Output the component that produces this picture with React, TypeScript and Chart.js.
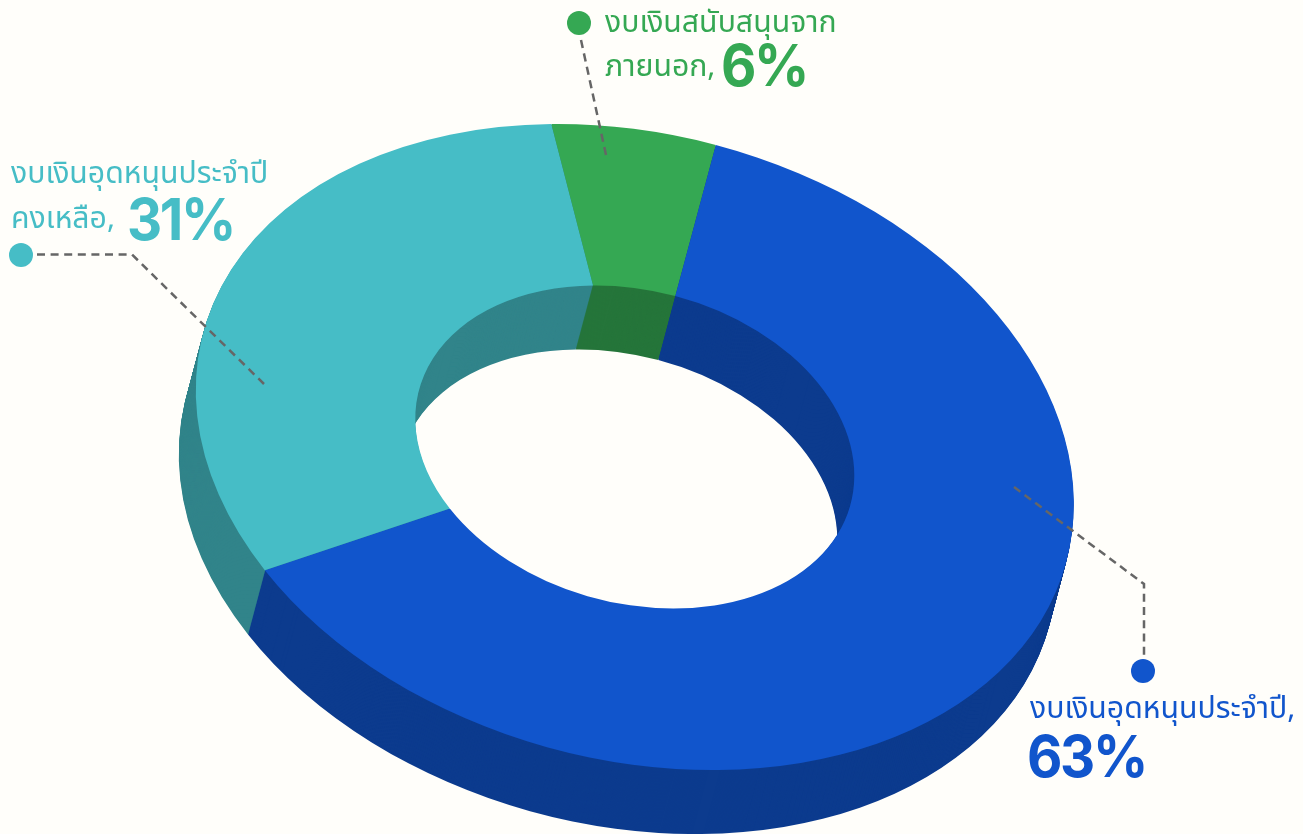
import React, { useEffect, useRef } from "react";
import { Chart, registerables } from "chart.js";

Chart.register(...registerables);

const categories = ["งบเงินสนับสนุนจากภายนอก", "งบเงินอุดหนุนประจำปี", "งบเงินอุดหนุนประจำปีคงเหลือ"];
const shares = [6, 63, 31];
const topColors = ["#35A853", "#1155CC", "#46BDC6"];
const wallColors = ["#25753A", "#0C3B8E", "#31848A"];
const pageBg = "#FFFEFA";

// view of the tilted ring
const CENTER = { x: 634.8, y: 447 };
const AXIS_X = { x: 431, y: -4.6 };
const AXIS_Y = { x: 83.5, y: 323 };
const DEPTH = { x: -17, y: 64 };
const DEPTH_STEPS = 64;

const leaders = [
  { color: "#35A853", dot: [579, 23], dash: [8.2, 5.5], path: [[581, 40], [606, 155]] },
  { color: "#46BDC6", dot: [21, 255], dash: [8, 5.6], path: [[37, 254.5], [132, 254.5], [264, 384]] },
  { color: "#1155CC", dot: [1143, 671], dash: [8, 5.23], path: [[1014, 487], [1144, 584], [1144, 655]] },
];

const labelFont = "'Noto Sans Thai', 'Noto Sans', sans-serif";
const bigFont = "Inter, sans-serif";

const ring3d = {
  id: "ring3d",
  beforeDatasetDraw(chart: any) {
    const ctx = chart.ctx;
    const arcs = chart.getDatasetMeta(0).data;
    const paint = (dx: number, dy: number, colors: string[]) => {
      arcs.forEach((el: any, i: number) => {
        const R = el.outerRadius;
        ctx.save();
        ctx.translate(CENTER.x + dx, CENTER.y + dy);
        ctx.transform(AXIS_X.x / R, AXIS_X.y / R, AXIS_Y.x / R, AXIS_Y.y / R, 0, 0);
        ctx.translate(-el.x, -el.y);
        const orig = el.options;
        el.options = { ...orig, backgroundColor: colors[i], borderWidth: 0, borderColor: colors[i] };
        el.draw(ctx);
        el.options = orig;
        ctx.restore();
      });
    };
    for (let k = DEPTH_STEPS; k >= 1; k--) {
      paint((DEPTH.x * k) / DEPTH_STEPS, (DEPTH.y * k) / DEPTH_STEPS, wallColors);
    }
    paint(0, 0, topColors);
    // leader lines
    ctx.save();
    ctx.strokeStyle = "#666666";
    ctx.lineWidth = 2.5;
    leaders.forEach((l) => {
      ctx.setLineDash(l.dash);
      ctx.beginPath();
      l.path.forEach(([x, y], i) => (i ? ctx.lineTo(x, y) : ctx.moveTo(x, y)));
      ctx.stroke();
    });
    ctx.setLineDash([]);
    leaders.forEach((l) => {
      ctx.beginPath();
      ctx.fillStyle = l.color;
      ctx.arc(l.dot[0], l.dot[1], 12, 0, Math.PI * 2);
      ctx.fill();
    });
    ctx.restore();
    return false;
  },
};

const T = ({ x, y, color, children }: any) => (
  <div
    style={{
      position: "absolute",
      left: x,
      top: y,
      fontFamily: labelFont,
      fontSize: 30.2,
      fontWeight: 400,
      color,
      whiteSpace: "nowrap",
      lineHeight: 1,
    }}
  >
    {children}
  </div>
);

const Big = ({ x, y, color, children }: any) => (
  <div
    style={{
      position: "absolute",
      left: x,
      top: y,
      fontFamily: bigFont,
      fontSize: 58,
      fontWeight: 700,
      letterSpacing: -2.5,
      color,
      whiteSpace: "nowrap",
      lineHeight: 1,
      transform: "scaleX(0.94)",
      transformOrigin: "left top",
    }}
  >
    {children}
  </div>
);

export default function App() {
  const ref = useRef<HTMLCanvasElement>(null);
  useEffect(() => {
    document.body.style.margin = "0";
    document.body.style.background = pageBg;
    const chart = new Chart(ref.current!, {
      type: "doughnut",
      data: {
        labels: categories,
        datasets: [{ data: shares, backgroundColor: topColors, borderWidth: 0 }],
      },
      options: {
        animation: false,
        responsive: false,
        cutout: "50%",
        rotation: 0,
        plugins: { legend: { display: false }, tooltip: { enabled: false } },
      },
      plugins: [ring3d],
    } as any);
    return () => chart.destroy();
  }, []);
  return (
    <div style={{ position: "relative", width: 1303, height: 834, overflow: "hidden", background: pageBg }}>
      <canvas ref={ref} width={1303} height={834} style={{ position: "absolute", left: 0, top: 0 }} />
      <T x={605} y={8} color="#35A853">งบเงินสนับสนุนจาก</T>
      <T x={605} y={52} color="#35A853">ภายนอก,</T>
      <Big x={721} y={36} color="#35A853">6%</Big>
      <T x={11} y={159} color="#46BDC6">งบเงินอุดหนุนประจำปี</T>
      <T x={11} y={204} color="#46BDC6">คงเหลือ,</T>
      <Big x={127} y={190} color="#46BDC6">31%</Big>
      <T x={1030} y={694} color="#1155CC">งบเงินอุดหนุนประจำปี,</T>
      <Big x={1027} y={727} color="#1155CC">63%</Big>
    </div>
  );
}
